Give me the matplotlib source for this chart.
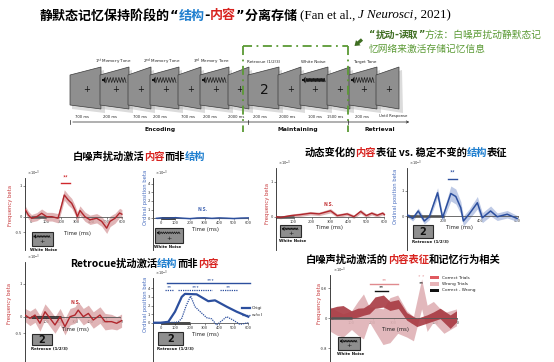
import numpy as np
import matplotlib
matplotlib.use('Agg')
import matplotlib.pyplot as plt
from matplotlib.patches import Polygon, Rectangle, FancyArrow

plt.rcParams['font.family'] = ['Noto Sans CJK SC', 'DejaVu Sans']

# ---------------- data ----------------
# A: white noise -> frequency (content) beta, x10^-3
wn_freq_t = [-35, -15, 5, 40, 72, 105, 140, 180, 204, 221, 247, 270, 291, 307, 324, 357, 390, 434, 467, 500, 522, 555, 585, 600]
wn_freq_v = [0.22, 0.05, -0.05, 0.0, 0.11, 0.0, 0.0, -0.05, 0.38, 0.70, 0.54, 0.43, 0.22, 0.0, 0.20, 0.0, -0.10, -0.05, -0.15, -0.37, -0.15, -0.05, 0.12, 0.08]
wn_freq_e = [0.12, 0.12, 0.12, 0.13, 0.14, 0.14, 0.14, 0.15, 0.16, 0.17, 0.17, 0.16, 0.15, 0.15, 0.15, 0.15, 0.15, 0.15, 0.16, 0.17, 0.17, 0.16, 0.15, 0.15]
# B: white noise -> ordinal position (structure) beta
wn_ord_t = [-30, 0, 50, 100, 150, 200, 250, 300, 350, 400, 450, 500, 550, 600]
wn_ord_v = [0.0, 0.05, 0.0, 0.08, 0.02, -0.03, 0.04, 0.06, 0.0, 0.05, 0.02, -0.02, 0.03, 0.05]
wn_ord_e = [0.08, 0.08, 0.08, 0.08, 0.08, 0.08, 0.08, 0.08, 0.08, 0.08, 0.08, 0.08, 0.08, 0.08]
# C: dynamic content (frequency) after white noise
dyn_freq_t = [0, 28, 83, 138, 193, 240, 303, 340, 395, 432, 469, 500, 530, 560, 590, 600]
dyn_freq_v = [0.0, -0.02, 0.03, 0.06, 0.10, 0.08, 0.17, 0.03, 0.08, 0.0, 0.15, 0.03, 0.10, 0.04, 0.10, 0.06]
dyn_freq_e = [0.04, 0.04, 0.04, 0.05, 0.05, 0.05, 0.06, 0.05, 0.05, 0.05, 0.06, 0.05, 0.05, 0.05, 0.05, 0.05]
# D: stable structure (ordinal) after retrocue
dyn_ord_t = [4, 31, 61, 94, 121, 166, 193, 238, 265, 292, 306, 337, 382, 409, 454, 490, 544, 598]
dyn_ord_v = [0.03, -0.10, 0.20, -0.20, -0.03, 0.93, -0.07, 0.90, 0.78, 0.33, -0.20, 0.07, 0.53, -0.07, 0.20, -0.03, 0.07, -0.10]
dyn_ord_e = [0.08, 0.10, 0.12, 0.12, 0.12, 0.20, 0.15, 0.30, 0.30, 0.25, 0.20, 0.20, 0.25, 0.20, 0.20, 0.15, 0.15, 0.12]
# E: retrocue -> frequency beta
rc_freq_t = [-40, -7, 27, 60, 94, 128, 161, 195, 228, 262, 295, 317, 351, 385, 418, 463, 497, 541, 575, 608]
rc_freq_v = [0.05, -0.05, 0.05, -0.2, 0.15, -0.05, -0.25, 0.0, -0.3, 0.0, 0.05, 0.2, 0.0, 0.1, -0.1, 0.05, -0.15, -0.15, -0.2, -0.12]
rc_freq_e = [0.2, 0.22, 0.22, 0.24, 0.24, 0.25, 0.25, 0.25, 0.25, 0.25, 0.25, 0.25, 0.25, 0.25, 0.25, 0.25, 0.25, 0.22, 0.2, 0.2]
# F: retrocue -> ordinal position beta (original vs w/o)
rc_orig_t = [-50, 0, 52, 98, 144, 166, 246, 326, 372, 452, 520, 600]
rc_orig_v = [0.0, 0.0, 0.1, 1.28, 3.0, 3.35, 3.3, 2.5, 2.6, 1.86, 1.28, 0.7]
rc_wo_t = [-50, 0, 100, 120, 144, 175, 205, 235, 269, 315, 349, 383, 452, 497, 543, 600]
rc_wo_v = [0.0, 0.0, 0.05, 0.1, 0.5, 2.0, 3.1, 1.86, 1.3, 0.58, 0.45, -0.27, 0.7, 0.3, -0.2, 0.0]
# G: behaviour (correct vs wrong trials), frequency beta
bh_t = [0, 30, 60, 100, 130, 157, 185, 212, 252, 283, 323, 363, 411, 459, 490, 522, 570, 600]
correct_v = [0.12, 0.17, 0.17, 0.10, 0.15, 0.18, 0.25, 0.42, 0.46, 0.33, 0.38, 0.05, -0.11, -0.02, 0.05, 0.13, -0.09, 0.05]
correct_e = [0.15, 0.15, 0.17, 0.10, 0.12, 0.10, 0.13, 0.15, 0.16, 0.12, 0.12, 0.10, 0.11, 0.11, 0.12, 0.14, 0.18, 0.15]
wrong_t = [0, 30, 60, 100, 130, 157, 185, 212, 250, 283, 320, 363, 395, 434, 460, 490, 540, 600]
wrong_hi = [0.30, 0.20, 0.12, 0.20, 0.45, 0.65, 0.30, 0.30, 0.25, 0.55, 0.62, 0.20, 0.05, 1.05, 0.35, 0.45, 0.15, 0.25]
wrong_lo = [-0.35, -0.45, -0.50, -0.30, -0.45, -0.55, -0.10, -0.35, -0.70, -0.65, -0.40, -0.50, -0.60, 0.25, -0.35, -0.10, -0.40, -0.20]

# task diagram
screen_kinds = ['fix', 'tone', 'fix', 'tone', 'fix', 'tone', 'fix', 'cue', 'fix', 'noise', 'fix', 'tone', 'fix']
stage_labels = ['1$^{\\rm st}$ Memory Tone', '2$^{\\rm nd}$ Memory Tone', '3$^{\\rm rd}$ Memory Tone',
                'Retrocue (1/2/3)', 'White Noise', 'Target Tone']
durations = ['700 ms', '200 ms', '700 ms', '200 ms', '700 ms', '200 ms', '2000 ms', '200 ms',
             '2000 ms', '100 ms', '1500 ms', '200 ms', 'Until Response']
phases = ['Encoding', 'Maintaining', 'Retrieval']

# ---------------- layout ----------------
W, H = 554, 362
fig = plt.figure(figsize=(W / 100, H / 100), dpi=100)
fig.patch.set_facecolor('white')


def fbox(l, t, r, b):
    return [l / W, 1 - b / H, (r - l) / W, (b - t) / H]


back = fig.add_axes([0, 0, 1, 1])
back.set_xlim(0, W); back.set_ylim(H, 0); back.axis('off')

RED = '#d8231f'
BLUE = '#1f7fcf'
LRED = '#b0262c'
LBLUE = '#2c4f9e'
GREEN = '#5b9a35'
DGREEN = '#3f6e22'
renderer = fig.canvas.get_renderer()
DJ = {'family': ['DejaVu Sans']}


def rich(ax, x, y, segs, size, ha='left', zorder=3):
    texts, widths = [], []
    for seg in segs:
        s, c, w = seg[0], seg[1], seg[2]
        kw = seg[3] if len(seg) > 3 else {}
        t = ax.text(0, y, s, color=c, fontsize=size, fontweight=w, va='center', ha='left', zorder=zorder, **kw)
        widths.append(t.get_window_extent(renderer=renderer).width)
        texts.append(t)
    x0 = x - sum(widths) / 2 if ha == 'center' else x
    for t, wd in zip(texts, widths):
        t.set_x(x0)
        x0 += wd


# title
serif = {'family': ['Liberation Serif']}
rich(back, 40, 15.5, [('静默态记忆保持阶段的', 'black', 'bold'), ('\u201c', 'black', 'bold', DJ),
                      ('结构', BLUE, 'bold'), ('-', 'black', 'bold', DJ),
                      ('内容', RED, 'bold'), ('\u201d', 'black', 'bold', DJ), ('分离存储 ', 'black', 'bold'),
                      ('(Fan et al., ', 'black', 'normal', serif), ('J Neurosci', 'black', 'normal', dict(serif, style='italic')),
                      (', 2021)', 'black', 'normal', serif)], 9.4)

# green annotation
rich(back, 369, 35, [('\u201c', DGREEN, 'bold', DJ), ('扰动', DGREEN, 'bold'), ('-', DGREEN, 'bold', DJ),
                     ('读取', DGREEN, 'bold'), ('\u201d', DGREEN, 'bold', DJ),
                     ('方法：白噪声扰动静默态记', GREEN, 'normal')], 7.0)
rich(back, 369, 48.5, [('忆网络来激活存储记忆信息', GREEN, 'normal')], 7.0)
back.add_patch(FancyArrow(362, 39.5, -7.5, 6.5, width=3.2, head_width=7, head_length=5,
                          length_includes_head=True, color=DGREEN, lw=0))

# screens
screen_left = [70, 100, 128, 150, 178, 200, 228, 248, 278, 300, 327, 349, 376]
for i, kind in enumerate(screen_kinds):
    L = screen_left[i]
    R = screen_left[i + 1] + 1 if i + 1 < len(screen_left) else L + 23
    back.add_patch(Polygon([(L + 2, 78), (R + 3, 70), (R + 4, 113), (L + 2, 109)], closed=True,
                           facecolor='#a5a5a5', edgecolor='none', alpha=0.4, zorder=1 + i * 0.01))
    back.add_patch(Polygon([(L, 75), (R, 67), (R, 109), (L, 105)], closed=True,
                           facecolor='#8f8f8f', edgecolor='#3a3a3a', lw=0.5, zorder=1.005 + i * 0.01))
    cx = (L + R) / 2 + 1
    z = 1.008 + i * 0.01
    if kind == 'cue':
        back.text(cx, 90, '2', fontsize=10, ha='center', va='center', color='#111', zorder=z,
                  family=['DejaVu Sans'])
    else:
        back.text(cx, 90, '+', fontsize=6, ha='center', va='center', color='#111', zorder=z,
                  family=['DejaVu Sans'])
    if kind in ('tone', 'noise'):
        x0, x1 = L + 6, R - 3
        n = 7 if kind == 'tone' else 14
        xs = np.linspace(x0, x1, 2 * n + 1)
        ys = 80 + (2.6 if kind == 'tone' else 1.6) * np.where(np.arange(2 * n + 1) % 2 == 0, 1, -1)
        back.plot(xs, ys, color='#1a1a1a', lw=0.45 if kind == 'tone' else 0.7, zorder=z)
        back.add_patch(Polygon([(L + 2, 79), (L + 3.5, 79), (L + 5.5, 76.5), (L + 5.5, 83.5), (L + 3.5, 81), (L + 2, 81)],
                               closed=True, facecolor='#111', edgecolor='none', zorder=z))

stage_x = [113, 162, 212, 264, 313, 365]
for s, x in zip(stage_labels, stage_x):
    back.text(x, 62, s, fontsize=3.0, ha='center', va='center', color='#222', family=['DejaVu Sans'])
dur_x = [82, 110, 140, 160, 188, 210, 236, 260, 287, 315, 335, 362, 393]
for s, x in zip(durations, dur_x):
    back.text(x, 116.5, s, fontsize=2.7, ha='center', va='center', color='#222', family=['DejaVu Sans'])
back.annotate('', xy=(412, 122), xytext=(70, 122),
              arrowprops=dict(arrowstyle='->', lw=0.5, color='#222', mutation_scale=4))
for x in [70, 248, 348]:
    back.plot([x, x], [120, 124], color='#222', lw=0.5)
for s, x in zip(phases, [160, 298, 380]):
    back.text(x, 129.5, s, fontsize=4.3, ha='center', va='center', color='#111', fontweight='bold',
              family=['DejaVu Sans'])

# green dash-dot box
gkw = dict(color=GREEN, lw=1.3, linestyle=(0, (5, 2.5, 1, 2.5)), zorder=4)
back.plot([242.7, 348.3], [45.5, 45.5], **gkw)
back.plot([242.7, 242.7], [45.5, 132], **gkw)
back.plot([348.3, 348.3], [45.5, 132], **gkw)

# section headings
rich(back, 139, 157, [('白噪声扰动激活', 'black', 'bold'), ('内容', RED, 'bold'), ('而非', 'black', 'bold'),
                      ('结构', BLUE, 'bold')], 7.4, ha='center')
rich(back, 406, 153, [('动态变化的', 'black', 'bold'), ('内容', RED, 'bold'), ('表征 vs. 稳定不变的', 'black', 'bold'),
                      ('结构', BLUE, 'bold'), ('表征', 'black', 'bold')], 7.4, ha='center')
rich(back, 144, 264, [('Retrocue扰动激活', 'black', 'bold'), ('结构', BLUE, 'bold'), ('而非', 'black', 'bold'),
                      ('内容', RED, 'bold')], 7.4, ha='center')
rich(back, 403, 260, [('白噪声扰动激活的', 'black', 'bold'), ('内容表征', RED, 'bold'),
                      ('和记忆行为相关', 'black', 'bold')], 7.4, ha='center')


# ---------------- plots ----------------
def mkplot(l, t, r, b, x0px, px100, y0px, pxunit, yticks, ylabels, xticks, xlabels):
    xlim = ((l - x0px) / px100 * 100, (r - x0px) / px100 * 100)
    ylim = ((y0px - b) / pxunit, (y0px - t) / pxunit)
    ax = fig.add_axes(fbox(l, t, r, b))
    ax.set_xlim(xlim); ax.set_ylim(ylim)
    ax.patch.set_alpha(0)
    for s in ['top', 'right']:
        ax.spines[s].set_visible(False)
    ax.spines['bottom'].set_position(('data', 0))
    ax.spines['bottom'].set_bounds(xlim[0], 600)
    ax.spines['bottom'].set_color('#555')
    ax.spines['bottom'].set_linewidth(0.6)
    ax.spines['left'].set_linewidth(0.6)
    ax.spines['left'].set_color('#222')
    ax.set_yticks(yticks); ax.set_yticklabels(ylabels)
    ax.set_xticks(xticks); ax.set_xticklabels(xlabels)
    ax.tick_params(labelsize=3, length=1.5, width=0.4, pad=0.8, colors='#333')
    ax.text(0.02, 1.0, '$\\times10^{-3}$', transform=ax.transAxes, fontsize=2.6, va='bottom', ha='left',
            color='#333')
    return ax


def band(ax, t, v, e, color, fill, lw=1.0, falpha=0.8):
    t = np.asarray(t); v = np.asarray(v); e = np.asarray(e)
    ax.fill_between(t, v - e, v + e, color=fill, alpha=falpha, lw=0, zorder=2)
    ax.plot(t, v, color=color, lw=lw, zorder=3)


def stimbar(ax, t1, color='#111'):
    ax.plot([0, t1], [0, 0], color=color, lw=1.8, zorder=2.5, solid_capstyle='butt')


XT = [0, 100, 200, 300, 400, 500, 600]
XL = ['0', '100', '200', '300', '400', '500', '600']
PINK = '#d9a2a4'
LBL = '#aebde0'

# A
axA = mkplot(25, 178, 125, 250, 30.7, 15.2, 216.7, 31, [-0.5, 0, 1], ['-0.5', '0', '1'], XT, XL)
stimbar(axA, 100, '#555')
band(axA, wn_freq_t, wn_freq_v, wn_freq_e, LRED, PINK)
axA.plot([200, 258], [1.08, 1.08], color='#d0282c', lw=1.0)
axA.text(229, 1.1, '**', color='#d0282c', fontsize=4.5, ha='center', va='bottom')

# B
axB = mkplot(153, 178, 252, 250, 160.7, 14.6, 218.3, 8.7, [0, 1, 2, 3, 4], ['0', '1', '2', '3', '4'], XT, XL)
stimbar(axB, 100)
band(axB, wn_ord_t, wn_ord_v, wn_ord_e, LBLUE, LBL)
axB.text(290, 0.7, 'N.S.', color='#3a5fb0', fontsize=3.6, ha='center', va='bottom', fontweight='bold')

# C
axC = mkplot(276, 168, 386, 250, 275.5, 18.15, 216.7, 35, [0, 1], ['0', '1'], XT[1:], XL[1:])
stimbar(axC, 100, '#555')
band(axC, dyn_freq_t, dyn_freq_v, dyn_freq_e, LRED, PINK)
axC.text(290, 0.27, 'N.S.', color='#c0282c', fontsize=3.6, ha='center', va='bottom', fontweight='bold')

# D
axD = mkplot(407, 168, 520, 250, 406.5, 18.5, 216, 25, [0, 1], ['0', '1'], [0, 200, 400, 600], ['', '200', '400', '600'])
stimbar(axD, 200, '#444')
band(axD, dyn_ord_t, dyn_ord_v, dyn_ord_e, LBLUE, LBL, lw=1.1)
axD.plot([225, 272], [1.5, 1.5], color=LBLUE, lw=1.0)
axD.text(248, 1.52, '**', color=LBLUE, fontsize=4.5, ha='center', va='bottom')

# E
axE = mkplot(25, 262, 125, 362, 31, 14.9, 316.7, 33, [-0.5, 0, 1], ['-0.5', '0', '1'], XT[1:], XL[1:])
band(axE, rc_freq_t, rc_freq_v, rc_freq_e, LRED, PINK)
stimbar(axE, 200)
axE.text(300, 0.35, 'N.S.', color='#c0282c', fontsize=3.6, ha='center', va='bottom', fontweight='bold')

# F
axF = mkplot(153, 278, 252, 362, 160.7, 14.6, 322.7, 8.6, [0, 1, 2, 3, 4], ['0', '1', '2', '3', '4'], XT, XL)
stimbar(axF, 200)
axF.plot(rc_orig_t, rc_orig_v, color=LBLUE, lw=1.6, zorder=3)
axF.plot(rc_wo_t, rc_wo_v, color=LBLUE, lw=0.9, ls=(0, (1, 0.8)), zorder=3)
axF.plot([45, 615], [4.65, 4.65], color=LBLUE, lw=1.0, clip_on=False)
axF.text(340, 4.62, '***', color=LBLUE, fontsize=4, ha='center', va='bottom')
for (a, b_, s) in [(30, 84, '**'), (120, 352, '***'), (405, 523, '**')]:
    axF.plot([a, b_], [3.8, 3.8], color=LBLUE, lw=0.9, ls=(0, (1, 0.8)))
    axF.text((a + b_) / 2, 3.78, s, color=LBLUE, fontsize=4, ha='center', va='bottom')

# G
axG = mkplot(330, 275, 460, 362, 330.5, 21, 318.3, 37.5, [-0.8, 0, 0.8], ['-0.8', '0', '0.8'], XT[1:], XL[1:])
axG.fill_between(wrong_t, wrong_lo, wrong_hi, color='#dfb1b5', alpha=0.9, lw=0, zorder=2)
cv = np.asarray(correct_v); ce = np.asarray(correct_e)
axG.fill_between(bh_t, cv - ce, cv + ce, color='#a83a42', alpha=0.9, lw=0, zorder=2.2)
stimbar(axG, 100, '#555')
axG.plot([190, 322], [0.91, 0.91], color='#e08a8e', lw=1.0)
axG.text(256, 0.93, '**', color='#e08a8e', fontsize=4, ha='center', va='bottom')
axG.plot([212, 275], [0.73, 0.73], color='#111', lw=1.0)
axG.text(244, 0.75, '**', color='#111', fontsize=4, ha='center', va='bottom')
axG.text(434, 1.03, '* *', color='#e6a0a4', fontsize=4, ha='center', va='bottom', clip_on=False)
axG.text(434, 0.86, '**', color='#111', fontsize=4, ha='center', va='bottom')

# ---------------- front overlay ----------------
front = fig.add_axes([0, 0, 1, 1], zorder=10)
front.set_xlim(0, W); front.set_ylim(H, 0); front.axis('off')

ylab = [(11, 206, 'Frequency beta', '#c83a3c'), (145, 197, 'Ordinal position beta', '#4a6fc0'),
        (268, 204, 'Frequency beta', '#c83a3c'), (396, 196, 'Ordinal position beta', '#4a6fc0'),
        (10, 303, 'Frequency beta', '#c83a3c'), (145, 304, 'Ordinal position beta', '#4a6fc0'),
        (319, 304, 'Frequency beta', '#c83a3c')]
for x, y, s, c in ylab:
    front.text(x, y, s, rotation=90, fontsize=3.8, color=c, ha='center', va='center', family=['DejaVu Sans'])

for x, y in [(78, 233.5), (205, 229), (330, 227.5), (460, 227.5), (75, 330), (206, 334.5), (395, 330)]:
    front.text(x, y, 'Time (ms)', fontsize=3.8, color='#222', ha='center', va='center', family=['DejaVu Sans'])


def stim_box(l, t, r, b, kind, label):
    front.add_patch(Rectangle((l, t), r - l, b - t, facecolor='#8e8e8e', edgecolor='#2a2a2a', lw=0.8, zorder=5))
    cx = (l + r) / 2
    if kind == 'noise':
        yy = t + (b - t) * 0.32
        xs = np.linspace(l + 5, r - 3, 19)
        ys = yy + 0.9 * np.where(np.arange(19) % 2 == 0, 1, -1)
        front.plot(xs, ys, color='#111', lw=0.5, zorder=6)
        front.add_patch(Polygon([(l + 2, yy - 0.8), (l + 3, yy - 0.8), (l + 4.5, yy - 2.2), (l + 4.5, yy + 2.2),
                                 (l + 3, yy + 0.8), (l + 2, yy + 0.8)], closed=True, facecolor='#111', zorder=6))
        front.text(cx, t + (b - t) * 0.68, '+', fontsize=4.5, ha='center', va='center', color='#111', zorder=6,
                   family=['DejaVu Sans'])
    else:
        front.text(cx, (t + b) / 2 + 0.3, '2', fontsize=7, ha='center', va='center', color='#111', zorder=6,
                   fontweight='bold', family=['DejaVu Sans'])
    front.text(l - 1, b + 4, label, fontsize=2.9, ha='left', va='center', color='#111', fontweight='bold',
               zorder=6, family=['DejaVu Sans'])


stim_box(31.5, 232, 53, 246, 'noise', 'White Noise')
stim_box(155, 228, 183, 243, 'noise', 'White Noise')
stim_box(280, 225, 301, 237, 'noise', 'White Noise')
stim_box(413, 225, 433, 238, 'cue', 'Retrocue (1/2/3)')
stim_box(32, 334, 52, 345, 'cue', 'Retrocue (1/2/3)')
stim_box(158, 332, 183, 345, 'cue', 'Retrocue (1/2/3)')
stim_box(338, 337, 360, 350, 'noise', 'White Noise')

# legend F
front.plot([242, 250], [308, 308], color=LBLUE, lw=1.6)
front.text(252, 308, 'Origi', fontsize=3.2, va='center', ha='left', color='#222', family=['DejaVu Sans'])
front.plot([242, 250], [314.5, 314.5], color=LBLUE, lw=0.9, ls=(0, (1, 0.8)))
front.text(252, 314.5, 'w/o I', fontsize=3.2, va='center', ha='left', color='#222', family=['DejaVu Sans'])

# legend G
for y, c, s in [(277.7, '#e05a60', 'Correct Trials'), (284, '#e8b4b8', 'Wrong Trials'), (290.3, '#111', 'Correct - Wrong')]:
    front.add_patch(Rectangle((430, y - 1.6), 8.5, 3.2, facecolor=c, edgecolor='none'))
    front.text(441.5, y, s, fontsize=3.1, va='center', ha='left', color='#222', family=['DejaVu Sans'])

fig.savefig('out.png', dpi=100, facecolor='white')
